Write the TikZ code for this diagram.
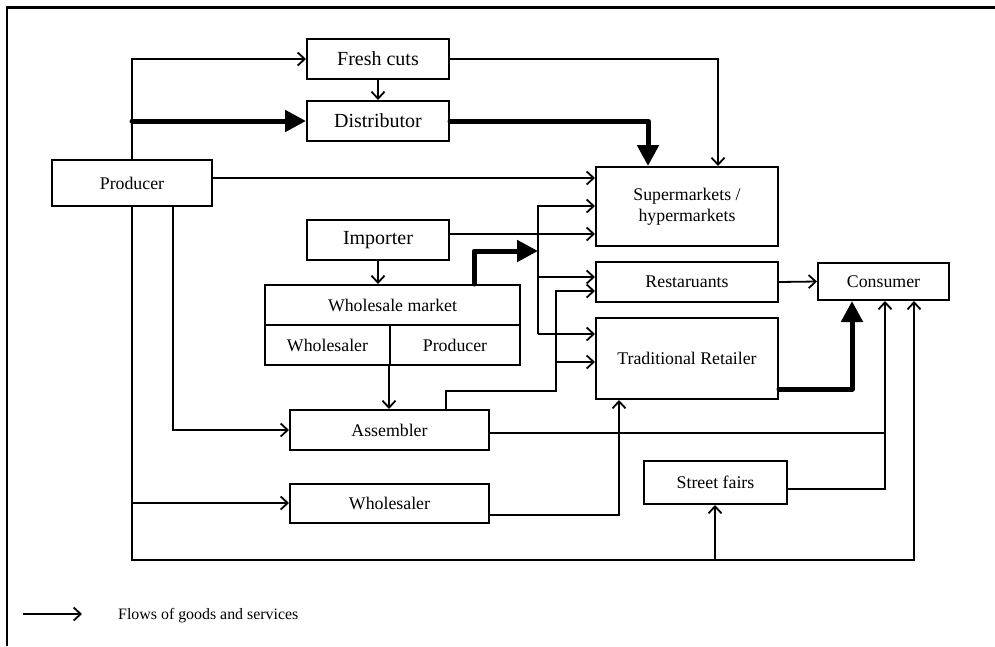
\documentclass[tikz,border=0pt]{standalone}
\usepackage{fontspec}
\setmainfont{Liberation Serif}
\usetikzlibrary{arrows.meta}
\begin{document}
\begin{tikzpicture}[x=1pt,y=-1pt,
 box/.style={draw,line width=2pt,rectangle,inner sep=0pt,align=center,font=\fontsize{17.8}{20.5}\selectfont},
 bigbox/.style={box,font=\fontsize{20}{23}\selectfont},
 flow/.style={line width=1.8pt,-{Straight Barb[length=7pt,width=13pt]}},
 plain/.style={line width=1.8pt},
 main/.style={line width=5pt,line cap=round,line join=round,-{Triangle[length=21pt,width=21pt]}},
]
\useasboundingbox (0,0) rectangle (995,646);
\draw[line width=2.2pt] (7,646) -- (7,7.5) -- (995,7.5);

\node[bigbox,minimum width=142pt,minimum height=40pt] (fc) at (378,59) {Fresh cuts};
\node[bigbox,minimum width=142pt,minimum height=40pt] (dist) at (378,121) {Distributor};
\node[box,minimum width=160pt,minimum height=46pt] (prod) at (132,183) {Producer};
\node[bigbox,minimum width=142pt,minimum height=40pt] (imp) at (378,240) {Importer};
\node[box,minimum width=255pt,minimum height=40pt] (wmtop) at (392.5,305) {Wholesale market};
\node[box,minimum width=125pt,minimum height=40pt] (wmws) at (327.5,345) {Wholesaler};
\node[box,minimum width=130pt,minimum height=40pt] (wmpr) at (455,345) {Producer};
\node[box,minimum width=199pt,minimum height=40pt] (asm) at (389.5,430) {Assembler};
\node[box,minimum width=199pt,minimum height=39pt] (ws) at (389.5,503.5) {Wholesaler};
\node[box,minimum width=182pt,minimum height=79pt] (sm) at (687,206.5) {Supermarkets /\\hypermarkets};
\node[box,minimum width=182pt,minimum height=40pt] (rest) at (687,282) {Restaruants};
\node[box,minimum width=182pt,minimum height=81pt] (tr) at (687,358.5) {Traditional Retailer};
\node[box,minimum width=131pt,minimum height=37pt] (cons) at (883.5,281.5) {Consumer};
\node[box,minimum width=143pt,minimum height=43pt] (sf) at (715.5,482.5) {Street fairs};

% producer upward
\draw[flow] (prod.north) |- (fc.west);
\coordinate (j1) at (prod.north |- dist.west);
\draw[main] (j1) -- (dist.west);
\draw[flow] (prod.east |- 0,178) -- (sm.west |- 0,178);
\draw[flow] (fc.east) -| (sm.north -| 718,0);
\draw[flow] (fc.south) -- (dist.north);
\draw[main] (dist.east) -| (sm.north -| 648,0);

% importer and wholesale market
\draw[flow] (imp.east |- 0,234) -- (sm.west |- 0,234);
\draw[flow] (imp.south) -- (imp.south |- wmtop.north);
\coordinate (bus) at (538,251);
\coordinate (busb) at (538,334);
\draw[main] (wmtop.north -| 474,0) |- (bus);
\draw[flow] (busb) |- (sm.west |- 0,206);
\draw[flow] (538,277) -- (rest.west |- 0,277);
\draw[flow] (busb) -- (tr.west |- 0,334);

% assembler
\coordinate (a1) at (556,391);
\coordinate (a2) at (556,362);
\draw[flow] (asm.north -| 446,0) |- (a1) |- (rest.west |- 0,291);
\draw[flow] (a2) -- (tr.west |- 0,362);
\draw[flow] (wmpr.south west) -- (wmpr.south west |- asm.north);
\draw[flow] (prod.south -| 173,0) |- (asm.west);

% producer downward loop
\coordinate (pb) at (132,560);
\coordinate (sfj) at (715,560);
\coordinate (wsj) at (132,503);
\draw[flow] (prod.south) -- (pb) -| (cons.south -| 914,0);
\draw[flow] (wsj) -- (ws.west |- wsj);
\draw[flow] (sfj) -- (sf.south -| sfj);

% to consumer
\draw[flow] (rest.east) -- (cons.west);
\draw[main] (tr.east |- 0,389) -| (cons.south -| 852,0);
\coordinate (asj) at (885,433);
\draw[flow] (sf.east |- 0,489) -| (cons.south -| 885,0);
\draw[plain] (asm.east |- asj) -- (asj);
\draw[flow] (ws.east |- 0,515) -| (tr.south -| 619,0);

% legend
\coordinate (la) at (23,614);
\coordinate (lb) at (82,614);
\draw[flow] (la) -- (lb);
\node[anchor=west,inner sep=0pt,font=\fontsize{15.9}{18}\selectfont] (lt) at (118,616) {Flows of goods and services};
\end{tikzpicture}
\end{document}
